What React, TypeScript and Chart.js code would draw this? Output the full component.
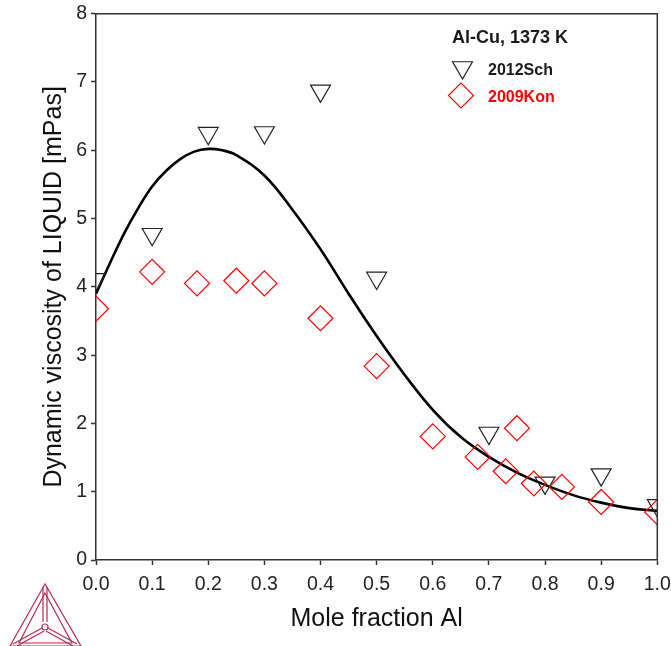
import React, { useEffect, useRef } from "react";
import { Chart, registerables } from "chart.js";

Chart.register(...registerables);

// Model curve (black line)
const curveX = [0, 0.025, 0.05, 0.075, 0.1, 0.125, 0.15, 0.175, 0.2, 0.225, 0.25, 0.3, 0.35, 0.4, 0.45, 0.5, 0.55, 0.6, 0.65, 0.7, 0.75, 0.8, 0.85, 0.9, 0.95, 1.0];
const curveY = [3.9, 4.35, 4.78, 5.15, 5.47, 5.7, 5.87, 5.98, 6.02, 6.0, 5.93, 5.63, 5.13, 4.55, 3.9, 3.28, 2.71, 2.2, 1.8, 1.51, 1.28, 1.1, 0.95, 0.84, 0.76, 0.72];

// 2012Sch (triangles)
const schX = [0, 0.1, 0.2, 0.3, 0.4, 0.5, 0.7, 0.8, 0.9, 1.0];
const schY = [4.11, 4.77, 6.25, 6.26, 6.87, 4.13, 1.86, 1.13, 1.25, 0.8];

// 2009Kon (diamonds)
const konX = [0, 0.1, 0.18, 0.25, 0.3, 0.4, 0.5, 0.6, 0.68, 0.73, 0.75, 0.78, 0.83, 0.9, 1.0];
const konY = [3.68, 4.22, 4.05, 4.09, 4.05, 3.54, 2.84, 1.81, 1.51, 1.3, 1.93, 1.12, 1.07, 0.85, 0.7];

const xTicks = [0, 0.1, 0.2, 0.3, 0.4, 0.5, 0.6, 0.7, 0.8, 0.9, 1.0];
const yTicks = [0, 1, 2, 3, 4, 5, 6, 7, 8];

const plotTitle = "Al-Cu, 1373 K";
const seriesNames = ["2012Sch", "2009Kon"];
const xTitle = "Mole fraction Al";
const yTitle = "Dynamic viscosity of LIQUID [mPas]";

const FONT = "'Liberation Sans', Arial, sans-serif";
const AXIS_COLOR = "#333333";

const boxPlugin = {
  id: "boxAndLegend",
  afterDraw(chart: any) {
    const { ctx, chartArea } = chart;
    const { left, top, right, bottom } = chartArea;
    ctx.save();
    // frame
    ctx.strokeStyle = AXIS_COLOR;
    ctx.lineWidth = 1.5;
    ctx.beginPath();
    ctx.moveTo(left, top);
    ctx.lineTo(right, top);
    ctx.lineTo(right, bottom);
    ctx.stroke();

    // legend block
    ctx.textAlign = "left";
    ctx.textBaseline = "alphabetic";
    ctx.fillStyle = "#1a1a1a";
    ctx.font = `bold 18px ${FONT}`;
    ctx.fillText(plotTitle, 452, 43);

    // triangle marker
    const tx = 462.5, ty = 67.5, tr = 11.5;
    ctx.strokeStyle = "#222222";
    ctx.lineWidth = 1.2;
    ctx.beginPath();
    for (let i = 0; i < 3; i++) {
      const a = Math.PI + (i * 2 * Math.PI) / 3;
      const px = tx + Math.sin(a) * tr;
      const py = ty - Math.cos(a) * tr;
      if (i === 0) ctx.moveTo(px, py);
      else ctx.lineTo(px, py);
    }
    ctx.closePath();
    ctx.stroke();
    ctx.font = `bold 16px ${FONT}`;
    ctx.fillStyle = "#1a1a1a";
    ctx.fillText(seriesNames[0], 488, 75);

    // diamond marker
    const dx = 461, dy = 95.5, dr = 12.5;
    ctx.strokeStyle = "#ff0000";
    ctx.beginPath();
    ctx.moveTo(dx - dr, dy);
    ctx.lineTo(dx, dy - dr);
    ctx.lineTo(dx + dr, dy);
    ctx.lineTo(dx, dy + dr);
    ctx.closePath();
    ctx.stroke();
    ctx.fillStyle = "#ff0000";
    ctx.fillText(seriesNames[1], 488, 102);

    // logo
    ctx.strokeStyle = "#b52a52";
    ctx.lineWidth = 1.2;
    const A = [45, 584], B = [10, 646], C = [81, 646], O = [45, 627];
    const A2 = [45, 593], B2 = [19, 643], C2 = [72, 643];
    const tri = (p: number[], q: number[], r: number[]) => {
      ctx.beginPath();
      ctx.moveTo(p[0], p[1]);
      ctx.lineTo(q[0], q[1]);
      ctx.lineTo(r[0], r[1]);
      ctx.closePath();
      ctx.stroke();
    };
    tri(A, B, C);
    tri(A2, B2, C2);
    const seg = (p: number[], q: number[]) => {
      ctx.beginPath();
      ctx.moveTo(p[0], p[1]);
      ctx.lineTo(q[0], q[1]);
      ctx.stroke();
    };
    seg([43, 587], [43, 622]);
    seg([47, 587], [47, 622]);
    ctx.beginPath();
    ctx.arc(O[0], O[1], 3, 0, Math.PI * 2);
    ctx.stroke();
    seg([42, 628], [13, 644]);
    seg([44, 631], [17, 646]);
    seg([48, 628], [77, 644]);
    seg([46, 631], [73, 646]);
    ctx.restore();
  },
};

export default function App() {
  const canvasRef = useRef<HTMLCanvasElement | null>(null);

  useEffect(() => {
    document.body.style.margin = "0";
    const canvas = canvasRef.current;
    if (!canvas) return;
    const chart = new Chart(canvas, {
      type: "scatter",
      data: {
        datasets: [
          {
            label: "Model",
            data: curveX.map((x, i) => ({ x, y: curveY[i] })),
            showLine: true,
            borderColor: "#000000",
            borderWidth: 2.6,
            pointRadius: 0,
            tension: 0.4,
            order: 3,
          },
          {
            label: seriesNames[0],
            data: schX.map((x, i) => ({ x, y: schY[i] })),
            pointStyle: "triangle",
            rotation: 180,
            pointRadius: 11.5,
            pointBorderWidth: 1.2,
            borderColor: "#222222",
            backgroundColor: "rgba(0,0,0,0)",
            order: 2,
          },
          {
            label: seriesNames[1],
            data: konX.map((x, i) => ({ x, y: konY[i] })),
            pointStyle: "rectRot",
            pointRadius: 12.5,
            pointBorderWidth: 1.2,
            borderColor: "#ff0000",
            backgroundColor: "rgba(0,0,0,0)",
            order: 1,
          },
        ],
      },
      options: {
        animation: false,
        responsive: false,
        maintainAspectRatio: false,
        events: [],
        layout: { padding: { top: 13, right: 12, left: 0, bottom: 0 } },
        plugins: {
          legend: { display: false },
          tooltip: { enabled: false },
        },
        scales: {
          x: {
            type: "linear",
            min: 0,
            max: 1,
            afterBuildTicks: (scale: any) => {
              scale.ticks = xTicks.map((v) => ({ value: v }));
            },
            afterFit: (scale: any) => {
              scale.height = 86;
              scale.paddingLeft = 0;
              scale.paddingRight = 0;
            },
            ticks: {
              callback: (v: any) => Number(v).toFixed(1),
              color: "#222222",
              font: { family: FONT, size: 19.5 },
              padding: 8,
              maxRotation: 0,
              autoSkip: false,
            },
            grid: {
              drawOnChartArea: false,
              drawTicks: true,
              tickLength: 5,
              tickColor: AXIS_COLOR,
              tickWidth: 1.5,
            },
            border: { color: AXIS_COLOR, width: 1.5 },
            title: {
              display: true,
              text: xTitle,
              color: "#111111",
              font: { family: FONT, size: 25 },
              padding: { top: 0, bottom: 12 },
            },
          },
          y: {
            type: "linear",
            min: 0,
            max: 8,
            afterBuildTicks: (scale: any) => {
              scale.ticks = yTicks.map((v) => ({ value: v }));
            },
            afterFit: (scale: any) => {
              scale.width = 96;
              scale.paddingTop = 0;
              scale.paddingBottom = 0;
            },
            ticks: {
              color: "#222222",
              font: { family: FONT, size: 19.5 },
              padding: 4,
              autoSkip: false,
            },
            grid: {
              drawOnChartArea: false,
              drawTicks: true,
              tickLength: 5,
              tickColor: AXIS_COLOR,
              tickWidth: 1.5,
            },
            border: { color: AXIS_COLOR, width: 1.5 },
            title: {
              display: true,
              text: yTitle,
              color: "#111111",
              font: { family: FONT, size: 25 },
              padding: { top: 39, bottom: 0 },
            },
          },
        },
      },
      plugins: [boxPlugin],
    } as any);
    return () => chart.destroy();
  }, []);

  return (
    <div style={{ width: 671, height: 646, position: "relative", background: "#ffffff" }}>
      <canvas ref={canvasRef} width={671} height={646} style={{ display: "block", width: 671, height: 646 }} />
    </div>
  );
}
